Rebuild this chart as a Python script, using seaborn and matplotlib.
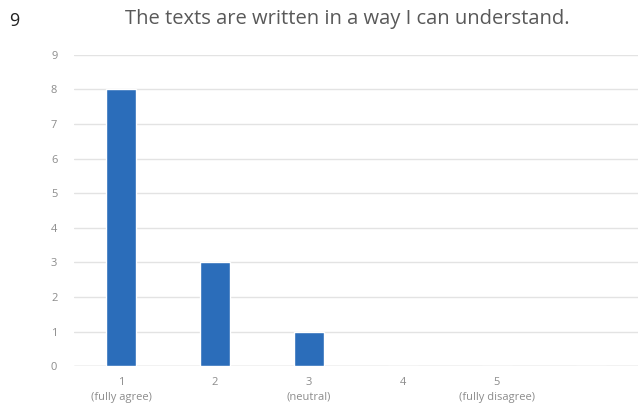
import matplotlib
matplotlib.use("Agg")
import matplotlib.pyplot as plt
import seaborn as sns
import pandas as pd

categories = ["1\n(fully agree)", "2", "3\n(neutral)", "4", "5\n(fully disagree)", " "]
counts = [8, 3, 1, 0, 0, 0]
yticks = list(range(0, 10))

sns.set_theme(style="white")
plt.rcParams['font.family'] = ['Open Sans', 'DejaVu Sans']

df = pd.DataFrame({"cat": categories, "n": counts})

fig = plt.figure(figsize=(6.38, 4.16), dpi=100)
ax = fig.add_axes([0.116, 0.12, 0.884, 0.748])
sns.barplot(data=df, x="cat", y="n", color="#2B6DBA", width=0.31, ax=ax,
            saturation=1, zorder=3)
ax.set_ylim(0, 9)
ax.set_yticks(yticks)
ax.set_xlim(-0.5, 5.5)
ax.yaxis.grid(True, color="#e3e3e3", linewidth=1, zorder=0)
ax.set_axisbelow(True)
for s in ax.spines.values():
    s.set_visible(False)
ax.axhline(0, color="#d9d9d9", linewidth=1, zorder=2)
ax.set_xlabel("")
ax.set_ylabel("")
ax.tick_params(axis="both", colors="#8c8c8c", labelsize=8, length=0)
ax.tick_params(axis="y", pad=12)
ax.tick_params(axis="x", pad=8)
for lbl in ax.get_xticklabels():
    lbl.set_linespacing(1.45)

fig.text(0.545, 0.955, "The texts are written in a way I can understand.",
         ha="center", va="center", fontsize=14.5, color="#595959")
fig.text(0.022, 0.95, "9", ha="center", va="center", fontsize=13, color="#222222")

fig.savefig("out.png", dpi=100)
